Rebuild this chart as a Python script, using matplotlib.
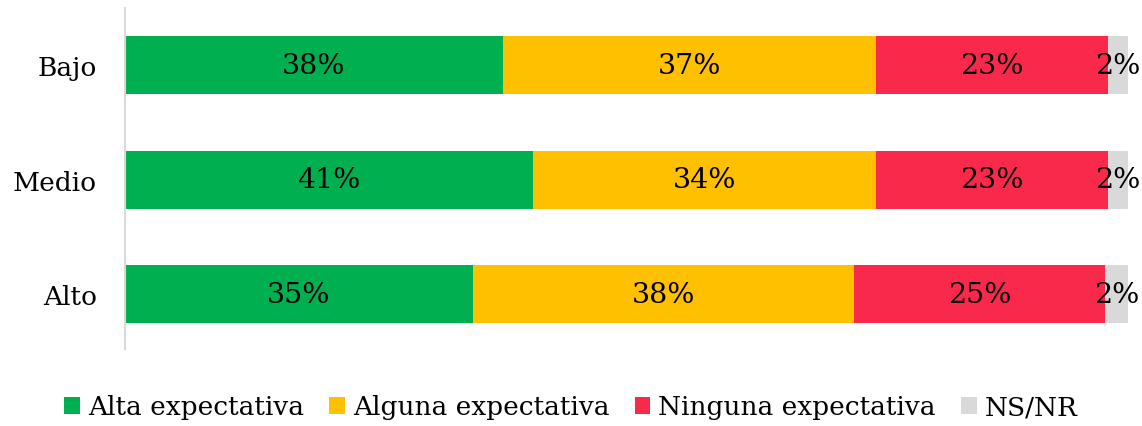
import matplotlib
matplotlib.use("Agg")
import matplotlib.pyplot as plt

# Datos (porcentajes)
categorias = ['Alto', 'Medio', 'Bajo']
series = ['Alta expectativa', 'Alguna expectativa', 'Ninguna expectativa', 'NS/NR']
alta = [34.7, 40.7, 37.7]
alguna = [38.0, 34.2, 37.2]
ninguna = [25.0, 23.1, 23.1]
nsnr = [2.3, 2.0, 2.0]
colores = ['#00B050', '#FFC000', '#F8294A', '#D9D9D9']

plt.rcParams['font.family'] = ['DejaVu Serif']

fig = plt.figure(figsize=(11.42, 4.27), dpi=100)
ax = fig.add_axes([125 / 1142, 1 - 350 / 427, 1003 / 1142, 341 / 427])

izq = [0, 0, 0]
for nombre, valores, color in zip(series, [alta, alguna, ninguna, nsnr], colores):
    barras = ax.barh(categorias, valores, left=izq, height=0.507, color=color, label=nombre)
    for b, v in zip(barras, valores):
        ax.text(b.get_x() + b.get_width() / 2, b.get_y() + b.get_height() / 2,
                f'{round(v)}%', ha='center', va='center', fontsize=20.5, color='black')
    izq = [a + v for a, v in zip(izq, valores)]

ax.set_xlim(0, 100)
ax.set_ylim(-0.48, 2.5)
ax.set_xticks([])
ax.tick_params(axis='y', length=0, labelsize=19, pad=20)
for s in ['top', 'right', 'bottom']:
    ax.spines[s].set_visible(False)
ax.spines['left'].set_color('#D9D9D9')
ax.spines['left'].set_linewidth(1.5)

fig.legend(loc='center', bbox_to_anchor=(0.5, 1 - 408 / 427), ncol=4, frameon=False,
           fontsize=19, handlelength=0.6, handleheight=0.6, handletextpad=0.3,
           columnspacing=0.95)

fig.savefig('out.png', dpi=100)
